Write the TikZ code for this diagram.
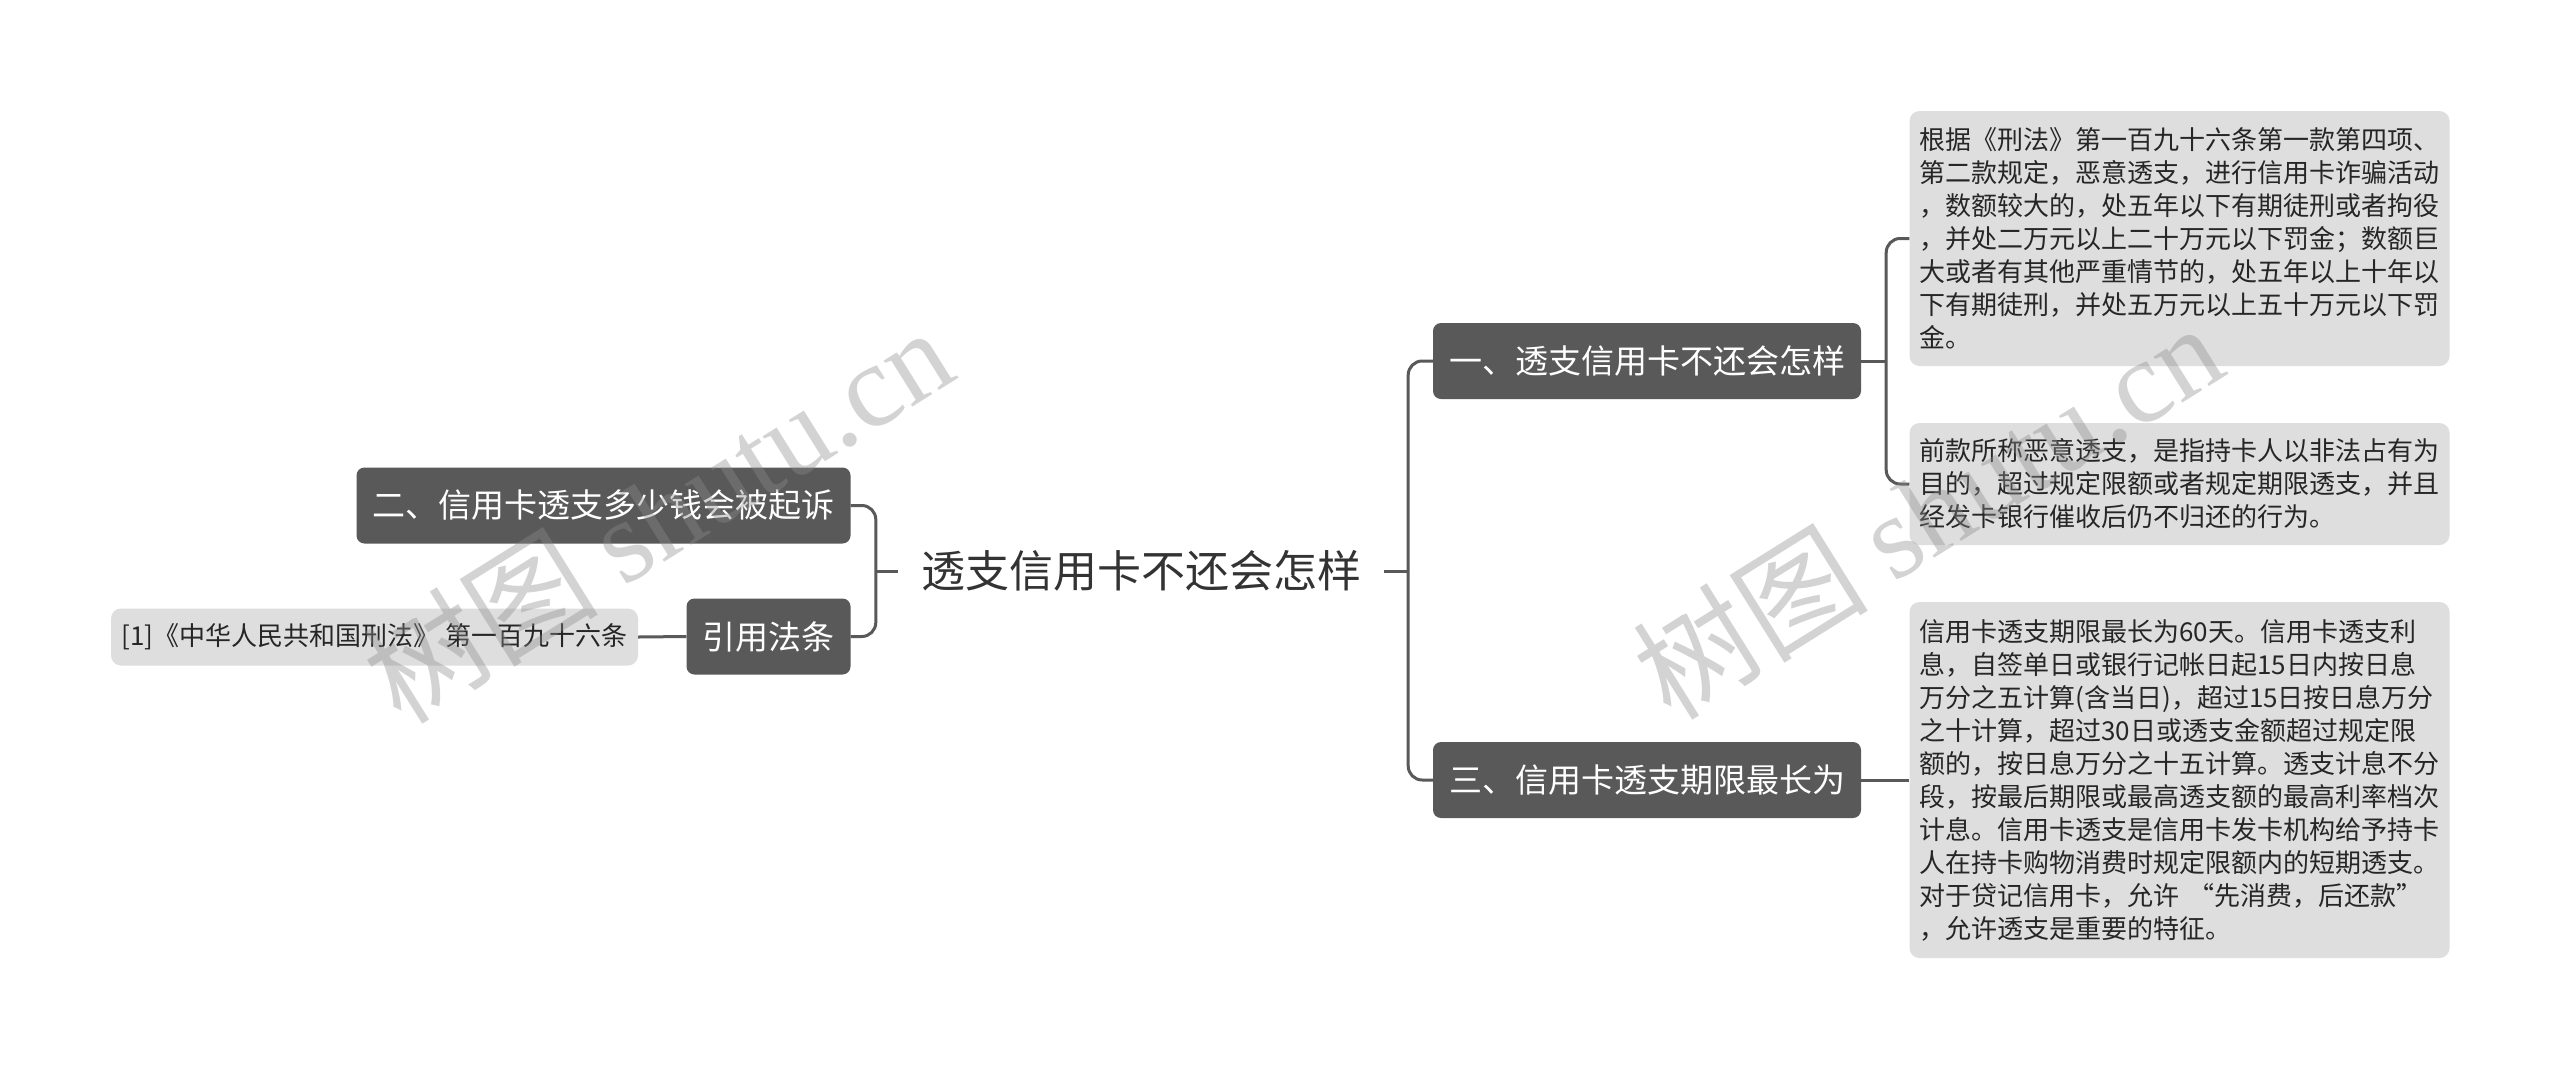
\documentclass[tikz,border=0pt]{standalone}
\usepackage{fontspec}
\setmainfont{Noto Sans CJK SC}
\newfontfamily\wmlatin{Liberation Serif}
\usetikzlibrary{calc}
\definecolor{darkbox}{HTML}{595959}
\definecolor{leafbox}{HTML}{DEDEDE}
\definecolor{linec}{HTML}{595959}
\definecolor{rootc}{HTML}{333333}
\definecolor{leaftext}{HTML}{262626}
\definecolor{wmc}{HTML}{8C8C8C}
\tikzset{
  conn/.style={draw=linec, line width=3pt},
  rootnode/.style={text=rootc, font=\fontsize{44}{50}\selectfont, inner xsep=23pt, inner ysep=6pt},
  mainbox/.style={fill=darkbox, rounded corners=8pt, text=white, font=\fontsize{33}{40}\selectfont, minimum height=76pt, inner xsep=16pt, inner ysep=4pt},
  leafbox/.style={fill=leafbox, rounded corners=10pt, text=leaftext, font=\fontsize{26}{33}\selectfont, align=left, text width=520pt, inner xsep=10pt, inner ysep=6pt},
  refbox/.style={fill=leafbox, rounded corners=10pt, text=leaftext, font=\fontsize{26}{30}\selectfont, minimum width=527pt, minimum height=57pt, inner xsep=8pt, inner ysep=4pt},
  wm/.style={text=wmc, text opacity=0.38, font=\fontsize{118}{120}\selectfont, inner sep=0pt}
}
\begin{document}
\begin{tikzpicture}[x=1pt,y=-1pt]
\useasboundingbox (0,0) rectangle (2560,1069);
\fill[white] (0,0) rectangle (2560,1069);

% nodes
\node[rootnode] (root) at (1141,571) {透支信用卡不还会怎样};
\node[mainbox] (n1) at (1647,361) {一、透支信用卡不还会怎样};
\node[mainbox] (n3) at (1647,780) {三、信用卡透支期限最长为};
\node[mainbox] (n2) at (603.5,505.5) {二、信用卡透支多少钱会被起诉};
\node[mainbox] (law) at (768.5,636.5) {引用法条};
\node[refbox] (ref) at (374.5,637) {[1]《中华人民共和国刑法》 第一百九十六条};

\node[leafbox, minimum height=255pt] (c1) at (2179.5,238.5) {根据《刑法》第一百九十六条第一款第四项、\\
第二款规定，恶意透支，进行信用卡诈骗活动\\
，数额较大的，处五年以下有期徒刑或者拘役\\
，并处二万元以上二十万元以下罚金；数额巨\\
大或者有其他严重情节的，处五年以上十年以\\
下有期徒刑，并处五万元以上五十万元以下罚\\
金。};
\node[leafbox, minimum height=122pt] (c2) at (2179.5,484) {前款所称恶意透支，是指持卡人以非法占有为\\
目的，超过规定限额或者规定期限透支，并且\\
经发卡银行催收后仍不归还的行为。};
\node[leafbox, minimum height=356pt] (c3) at (2179.5,780) {信用卡透支期限最长为60天。信用卡透支利\\
息，自签单日或银行记帐日起15日内按日息\\
万分之五计算(含当日)，超过15日按日息万分\\
之十计算，超过30日或透支金额超过规定限\\
额的，按日息万分之十五计算。透支计息不分\\
段，按最后期限或最高透支额的最高利率档次\\
计息。信用卡透支是信用卡发卡机构给予持卡\\
人在持卡购物消费时规定限额内的短期透支。\\
对于贷记信用卡，允许 “先消费，后还款”\\
，允许透支是重要的特征。};

% connectors
\coordinate (jr) at ($(root.east)+(24,0)$);
\coordinate (jl) at ($(root.west)+(-22,0)$);
\coordinate (j1) at ($(n1.east)+(25,0)$);
\draw[conn] (root.east) -- (jr);
\draw[conn, rounded corners=14pt] (n1.west) -| (jr);
\draw[conn, rounded corners=14pt] (n3.west) -| (jr);
\draw[conn] (n1.east) -- (j1);
\draw[conn, rounded corners=14pt] (c1.west) -| (j1);
\draw[conn, rounded corners=14pt] (c2.west) -| (j1);
\draw[conn] (n3.east) -- (c3.west);
\draw[conn] (root.west) -- (jl);
\draw[conn, rounded corners=14pt] (n2.east) -| (jl);
\draw[conn, rounded corners=14pt] (law.east) -| (jl);
\draw[conn] (ref.east) -- (law.west);

% watermarks
\node[wm, rotate=32] (wm1) at (657,514) {树图 {\wmlatin shutu.cn}};
\node[wm, rotate=32] (wm2) at (1927,510) {树图 {\wmlatin shutu.cn}};
\end{tikzpicture}
\end{document}
